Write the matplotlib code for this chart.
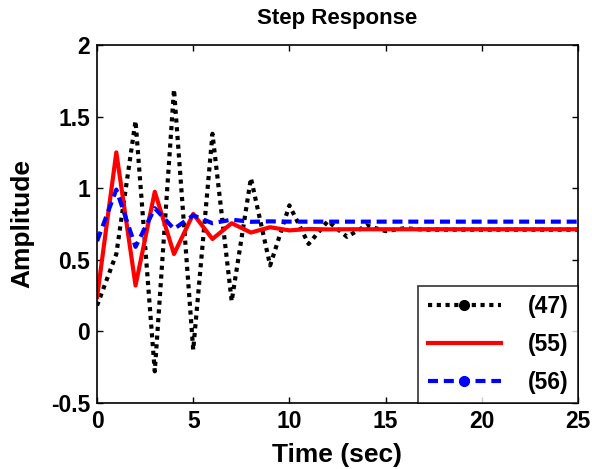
"""Step response of three discrete models (47), (55), (56)."""

import matplotlib

matplotlib.use("Agg")
import matplotlib.pyplot as plt
from matplotlib.lines import Line2D

# sample instants (sec), sample time 1 s
t = list(range(26))

resp_47 = [0.18, 0.54, 1.47, -0.28, 1.69, -0.13, 1.38, 0.21, 1.07, 0.46,
           0.88, 0.61, 0.77, 0.66, 0.74, 0.70, 0.72, 0.71, 0.71, 0.71,
           0.71, 0.71, 0.71, 0.71, 0.71, 0.71]
resp_55 = [0.24, 1.25, 0.32, 0.975, 0.54, 0.82, 0.645, 0.755, 0.69, 0.727,
           0.705, 0.715, 0.712, 0.713, 0.713, 0.713, 0.713, 0.713, 0.713, 0.713,
           0.713, 0.713, 0.713, 0.713, 0.713, 0.713]
resp_56 = [0.63, 0.99, 0.59, 0.86, 0.715, 0.81, 0.755, 0.78, 0.765, 0.768,
           0.766, 0.766, 0.766, 0.766, 0.766, 0.766, 0.766, 0.766, 0.766, 0.766,
           0.766, 0.766, 0.766, 0.766, 0.766, 0.766]

labels = ["(47)", "(55)", "(56)"]
x_ticks = [0, 5, 10, 15, 20, 25]
y_ticks = [-0.5, 0, 0.5, 1, 1.5, 2]
y_tick_labels = ["-0.5", "0", "0.5", "1", "1.5", "2"]

plt.rcParams["font.family"] = ["Liberation Sans", "DejaVu Sans"]
plt.rcParams["font.weight"] = "bold"

DOT = (0, (1, 1.1))
DASH = (0, (2.4, 1.4))

fig = plt.figure(figsize=(5.92, 4.69), dpi=100)
ax = fig.add_axes([0.164, 0.141, 0.812, 0.763])

ax.plot(t, resp_47, color="black", lw=3, ls=DOT)
ax.plot(t, resp_55, color="red", lw=3, ls="-")
ax.plot(t, resp_56, color="blue", lw=3, ls=DASH)

ax.set_xlim(0, 25)
ax.set_ylim(-0.5, 2)
ax.set_xticks(x_ticks)
ax.set_yticks(y_ticks)
ax.set_yticklabels(y_tick_labels)
ax.tick_params(direction="in", top=True, right=True, length=4, width=1,
               labelsize=16.5, pad=5)
for lab in ax.get_xticklabels() + ax.get_yticklabels():
    lab.set_fontweight("bold")
for sp in ax.spines.values():
    sp.set_linewidth(1.2)

ax.set_title("Step Response", fontsize=16, fontweight="bold", pad=15)
ax.set_xlabel("Time (sec)", fontsize=19, fontweight="bold", labelpad=7)
ax.set_ylabel("Amplitude", fontsize=19, fontweight="bold", labelpad=12)

# legend shows one marker on the dotted / dashed entries, like the original
handles = [
    Line2D([], [], color="black", lw=3, ls=DOT, marker=".", markersize=14),
    Line2D([], [], color="red", lw=3, ls="-"),
    Line2D([], [], color="blue", lw=3, ls=DASH, marker=".", markersize=14),
]
leg = ax.legend(handles, labels, loc="lower right", fontsize=16.5,
                frameon=True, fancybox=False, borderaxespad=0,
                handlelength=3.2, labelspacing=0.65, borderpad=0.4,
                handletextpad=1.18, numpoints=1)
leg.get_frame().set_edgecolor("black")
leg.get_frame().set_linewidth(1.2)
for text in leg.get_texts():
    text.set_fontweight("bold")

fig.savefig("out.png", dpi=100)
